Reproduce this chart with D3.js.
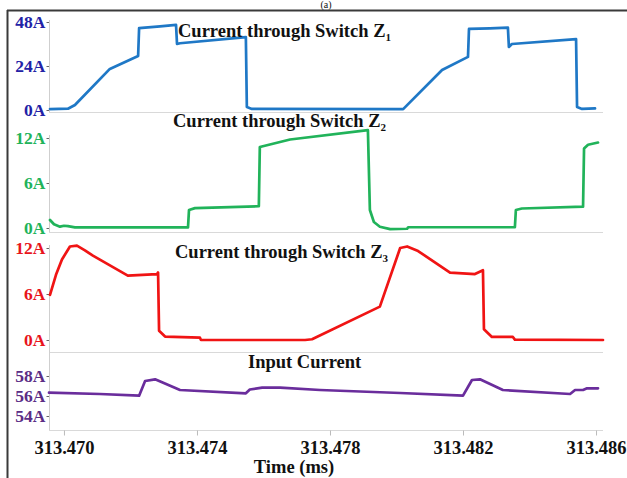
<!DOCTYPE html>
<html>
<head>
<meta charset="utf-8">
<script src="https://cdn.jsdelivr.net/npm/d3@7"></script>
<style>
  body { margin: 0; background: #fff; }
  svg { display: block; }
  .lbl { font-family: "Liberation Serif", "Times New Roman", serif; font-weight: bold; }
</style>
</head>
<body>
<div id="chart"></div>
<script>
// time ticks (ms)
var timeTicks = [313.470, 313.474, 313.478, 313.482, 313.486];

// Current through switch Z1 [time ms, A]
var z1 = [
  [313.46958, 0.5], [313.47012, 0.7], [313.47033, 2.7], [313.47138, 22.4],
  [313.47223, 29.5], [313.47226, 44.7], [313.47289, 45.6], [313.47337, 46.4],
  [313.47340, 36.0], [313.47349, 36.4], [313.47547, 39.7], [313.47550, 1.6],
  [313.47565, 0.6], [313.48020, 0.5], [313.48137, 21.8], [313.48215, 29.0],
  [313.48218, 44.2], [313.48281, 44.5], [313.48335, 44.9], [313.48338, 34.4],
  [313.48347, 36.0], [313.48540, 38.7], [313.48543, 1.6], [313.48558, 0.6],
  [313.48597, 0.9]
];

// Current through switch Z2
var z2 = [
  [313.46958, 1.07], [313.46970, 0.5], [313.46988, 0.18], [313.47000, 0.3],
  [313.47012, 0.25], [313.47033, 0.08], [313.47373, 0.08], [313.47376, 2.4],
  [313.47394, 2.65], [313.47586, 2.9], [313.47589, 10.8], [313.47680, 11.8],
  [313.47914, 13.05], [313.47920, 2.4], [313.47932, 0.8], [313.47950, 0.17],
  [313.47981, -0.15], [313.48032, -0.1], [313.48035, 0.1], [313.48356, 0.1],
  [313.48359, 2.4], [313.48377, 2.6], [313.48561, 2.85], [313.48564, 10.6],
  [313.48576, 11.1], [313.48606, 11.4]
];

// Current through switch Z3
var z3 = [
  [313.46958, 5.9], [313.46976, 8.5], [313.46994, 10.5], [313.47018, 12.2],
  [313.47039, 12.3], [313.47063, 11.7], [313.47087, 11.0], [313.47192, 8.4],
  [313.47280, 8.6], [313.47283, 8.8], [313.47286, 1.2], [313.47304, 0.45],
  [313.47409, 0.3], [313.47412, 0.0], [313.47725, 0.0], [313.47746, 0.1],
  [313.47950, 4.35], [313.48011, 12.0], [313.48032, 12.2], [313.48065, 11.6],
  [313.48161, 8.8], [313.48236, 8.6], [313.48260, 9.1], [313.48263, 1.4],
  [313.48287, 0.4], [313.48350, 0.4], [313.48356, 0.05], [313.48621, 0.0]
];

// Input current
var iin = [
  [313.46955, 56.33], [313.47108, 56.2], [313.47226, 56.03], [313.47244, 57.5],
  [313.47274, 57.67], [313.47349, 56.6], [313.47547, 56.27], [313.47559, 56.65],
  [313.47596, 56.83], [313.47650, 56.83], [313.47770, 56.6], [313.48011, 56.3],
  [313.48200, 56.03], [313.48227, 57.6], [313.48251, 57.67], [313.48320, 56.6],
  [313.48522, 56.2], [313.48537, 56.6], [313.48561, 56.6], [313.48573, 56.77],
  [313.48606, 56.77]
];

var width = 627, height = 478;
var svg = d3.select("#chart").append("svg")
    .attr("width", width)
    .attr("height", height);

// figure frame
svg.append("line").attr("x1", 7).attr("x2", width).attr("y1", 10.5).attr("y2", 10.5)
    .attr("stroke", "#3a3a3a").attr("stroke-width", 2);
svg.append("line").attr("x1", 7.5).attr("x2", 7.5).attr("y1", 10).attr("y2", height)
    .attr("stroke", "#3a3a3a").attr("stroke-width", 2);
svg.append("text").attr("x", 326).attr("y", 8)
    .attr("text-anchor", "middle").attr("font-size", 10)
    .attr("font-family", "Liberation Serif, serif").attr("fill", "#111")
    .text("(a)");

var x = d3.scaleLinear()
    .domain([313.46955, 313.48621])
    .range([49, 603]);

var panels = [
  { data: z1, ticks: [0, 24, 48], dom: [0, 48], rng: [110, 22], top: 20, base: 112,
    line: "#1f78c6", label: "#2222a6", title: "Current through Switch Z", sub: "1", tx: 178, ty: 37 },
  { data: z2, ticks: [0, 6, 12], dom: [0, 12], rng: [228, 138], top: 135, base: 232,
    line: "#21b35a", label: "#21b35a", title: "Current through Switch Z", sub: "2", tx: 173, ty: 127 },
  { data: z3, ticks: [0, 6, 12], dom: [0, 12], rng: [340, 248], top: 245, base: 352,
    line: "#f01414", label: "#e8141c", title: "Current through Switch Z", sub: "3", tx: 175, ty: 258 },
  { data: iin, ticks: [54, 56, 58], dom: [54, 58], rng: [416, 376], top: 350, base: 430,
    line: "#6a2d9c", label: "#5b2d86", title: "Input Current", sub: null, tx: 248, ty: 368 }
];

panels.forEach(function(p) {
  var y = d3.scaleLinear().domain(p.dom).range(p.rng);

  // baseline
  svg.append("line")
      .attr("x1", 49).attr("x2", 603)
      .attr("y1", p.base + 0.5).attr("y2", p.base + 0.5)
      .attr("stroke", "#d9d9d9").attr("stroke-width", 1);

  // left axis
  var g = svg.append("g").attr("transform", "translate(49.5,0)")
      .call(d3.axisLeft(y).tickValues(p.ticks).tickSize(3).tickPadding(1)
        .tickFormat(function(d) { return d + "A"; }));
  g.select(".domain").remove();
  g.selectAll(".tick line").attr("stroke", "#666");
  g.selectAll(".tick text").attr("class", "lbl").attr("font-size", 17.5)
      .attr("fill", p.label);
  svg.append("line")
      .attr("x1", 49.5).attr("x2", 49.5).attr("y1", p.top).attr("y2", p.base)
      .attr("stroke", "#cfcfcf").attr("stroke-width", 1);

  // series line
  svg.append("path")
      .datum(p.data)
      .attr("fill", "none")
      .attr("stroke", p.line)
      .attr("stroke-width", 2.7)
      .attr("stroke-linejoin", "round")
      .attr("stroke-linecap", "round")
      .attr("d", d3.line()
        .x(function(d) { return x(d[0]); })
        .y(function(d) { return y(d[1]); }));

  // title
  var t = svg.append("text").attr("class", "lbl")
      .attr("x", p.tx).attr("y", p.ty)
      .attr("font-size", 18.5).attr("fill", "#111")
      .text(p.title);
  if (p.sub) {
    t.append("tspan").attr("font-size", 11).attr("dy", 4).text(p.sub);
  }
});

// bottom time axis
var xa = svg.append("g").attr("transform", "translate(0,430.5)")
    .call(d3.axisBottom(x).tickValues(timeTicks).tickSize(5)
      .tickFormat(d3.format(".3f")));
xa.select(".domain").remove();
xa.selectAll(".tick line").attr("stroke", "#bbb");
xa.selectAll(".tick text").attr("class", "lbl").attr("font-size", 18.5)
    .attr("fill", "#111").attr("y", 23).attr("dy", 0);

svg.append("text").attr("class", "lbl")
    .attr("x", 294).attr("y", 473)
    .attr("text-anchor", "middle").attr("font-size", 18.5).attr("fill", "#111")
    .text("Time (ms)");
</script>
</body>
</html>
